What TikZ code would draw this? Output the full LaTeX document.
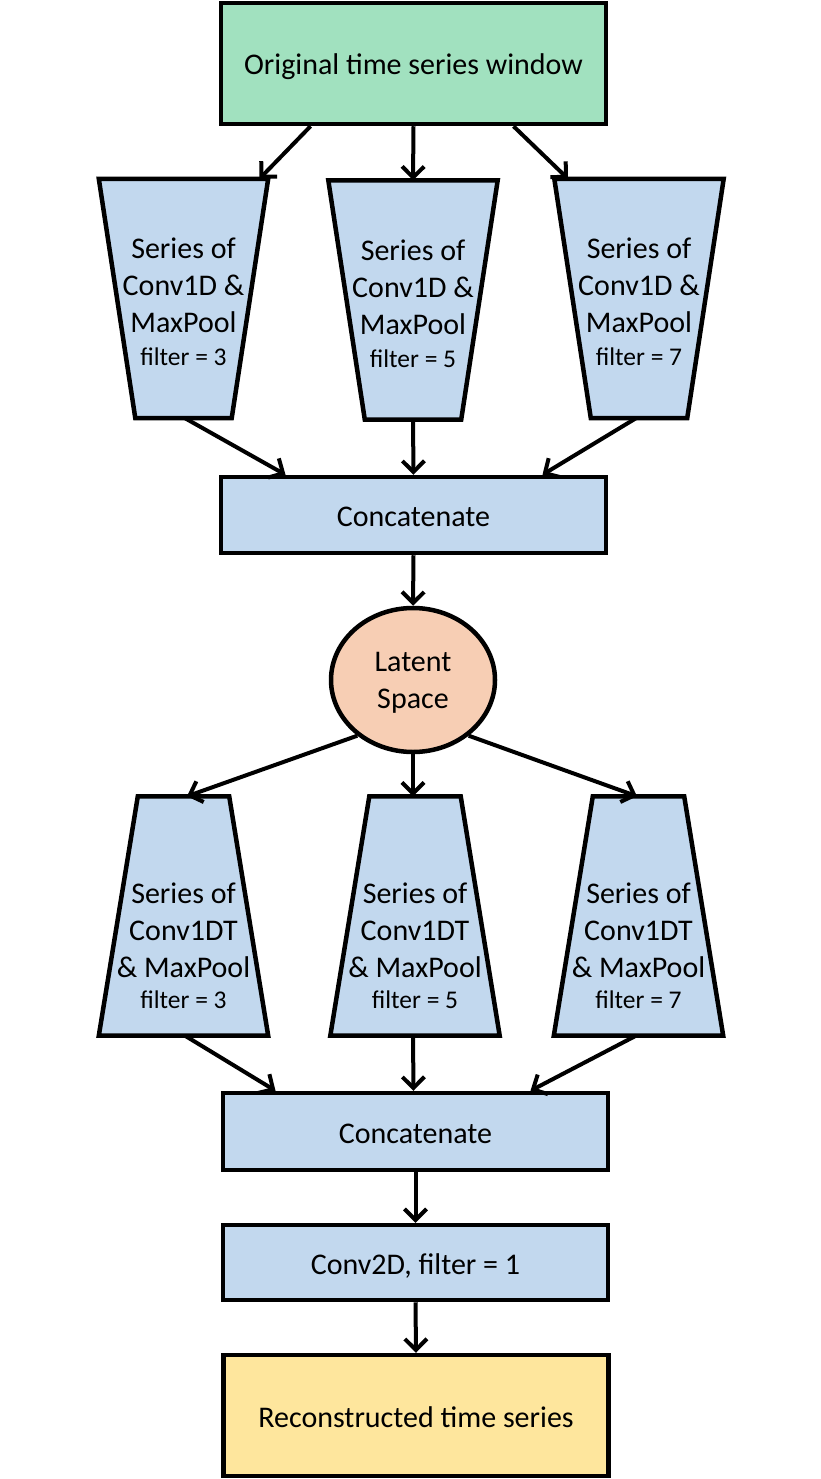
\documentclass[tikz,border=0pt]{standalone}
\usepackage{fontspec}
\setmainfont{Carlito}
\usetikzlibrary{shapes.geometric,arrows.meta,calc}
\definecolor{cgreen}{RGB}{161,225,191}
\definecolor{cblue}{RGB}{194,216,238}
\definecolor{cpeach}{RGB}{247,206,180}
\definecolor{cyellow}{RGB}{254,230,157}
\newcommand{\fsmall}{\fontsize{25.5}{30}\selectfont}
\begin{document}
\begin{tikzpicture}[x=1pt,y=-1pt,
  rbox/.style={draw=black,line width=4.5pt,rectangle,inner sep=0pt,minimum width=385pt,text height=24pt,text depth=1pt,font=\fontsize{30}{37}\selectfont},
  trapframe/.style={rectangle,inner sep=0pt,minimum width=169pt,minimum height=239pt},
  trapline/.style={draw=black,line width=4.5pt,fill=cblue,line join=miter},
  traptxt/.style={align=center,inner sep=0pt,font=\fontsize{30}{37}\selectfont},
  conn/.style={line width=4pt,-{Straight Barb[length=11pt,width=22pt]}}]
\useasboundingbox (0,0) rectangle (821,1479);
% frames for the trapezoids
\node[trapframe] (t1) at (183.5,298.5) {};
\node[trapframe] (t2) at (413,300) {};
\node[trapframe] (t3) at (639,298.5) {};
\node[trapframe] (b1) at (183.5,916) {};
\node[trapframe] (b2) at (415,916) {};
\node[trapframe] (b3) at (638.5,916) {};
\foreach \t in {t1,t2,t3}
  \path[trapline] (\t.north west) -- (\t.north east) -- ($(\t.south east)+(-36.5,0)$) -- ($(\t.south west)+(36.5,0)$) -- cycle;
\foreach \t in {b1,b2,b3}
  \path[trapline] ($(\t.north west)+(39,0)$) -- ($(\t.north east)+(-39,0)$) -- (\t.south east) -- (\t.south west) -- cycle;
% boxes
\node[rbox,fill=cgreen,minimum height=121pt] (top) at (413.5,63.5) {Original time series window};
\node[traptxt] (t1l) at (183.5,302) {Series of\\Conv1D \&\\MaxPool\\[-4pt]{\fsmall filter = 3}};
\node[traptxt] (t2l) at (413,304) {Series of\\Conv1D \&\\MaxPool\\[-4pt]{\fsmall filter = 5}};
\node[traptxt] (t3l) at (639,302) {Series of\\Conv1D \&\\MaxPool\\[-4pt]{\fsmall filter = 7}};
\node[rbox,fill=cblue,minimum height=76pt] (c1) at (413.5,515) {Concatenate};
\node[draw=black,line width=4.5pt,fill=cpeach,ellipse,minimum width=164pt,minimum height=144pt,inner sep=0pt] (ell) at (413,680) {};
\node[traptxt] (elll) at (413,683) {Latent\\Space};
\node[traptxt] (b1l) at (183.5,946) {Series of\\Conv1DT\\\& MaxPool\\[-6pt]{\fsmall filter = 3}};
\node[traptxt] (b2l) at (415,946) {Series of\\Conv1DT\\\& MaxPool\\[-6pt]{\fsmall filter = 5}};
\node[traptxt] (b3l) at (638.5,946) {Series of\\Conv1DT\\\& MaxPool\\[-6pt]{\fsmall filter = 7}};
\node[rbox,fill=cblue,minimum height=77pt] (c2) at (415.5,1131.5) {Concatenate};
\node[rbox,fill=cblue,minimum height=75pt] (conv) at (415.5,1262.5) {Conv2D, filter = 1};
\node[rbox,fill=cyellow,minimum height=121pt] (rec) at (416,1415.5) {Reconstructed time series};
% connectors
\draw[conn] ($(top.south)+(-103,0)$) -- ($(t1.north)+(76,0)$);
\draw[conn] (top.south) -- (t2.north);
\draw[conn] ($(top.south)+(100,0)$) -- ($(t3.north)+(-71,0)$);
\draw[conn] ($(t1.south)+(1.5,0)$) -- ($(c1.north)+(-128,0)$);
\draw[conn] (t2.south) -- (c1.north);
\draw[conn] ($(t3.south)+(-3,0)$) -- ($(c1.north)+(129,0)$);
\draw[conn] (c1.south) -- (ell.north);
\draw[conn] (ell.225) -- ($(b1.north)+(3.5,0)$);
\draw[conn] (ell.south) -- ($(b2.north)+(-2,0)$);
\draw[conn] (ell.-45) -- ($(b3.north)+(-1.5,0)$);
\draw[conn] ($(b1.south)+(1.5,0)$) -- ($(c2.north)+(-140,0)$);
\draw[conn] ($(b2.south)+(-2,0)$) -- ($(c2.north)+(-2,0)$);
\draw[conn] ($(b3.south)+(-2.5,0)$) -- ($(c2.north)+(115,0)$);
\draw[conn] (c2.south) -- (conv.north);
\draw[conn] (conv.south) -- (rec.north);
\end{tikzpicture}
\end{document}
